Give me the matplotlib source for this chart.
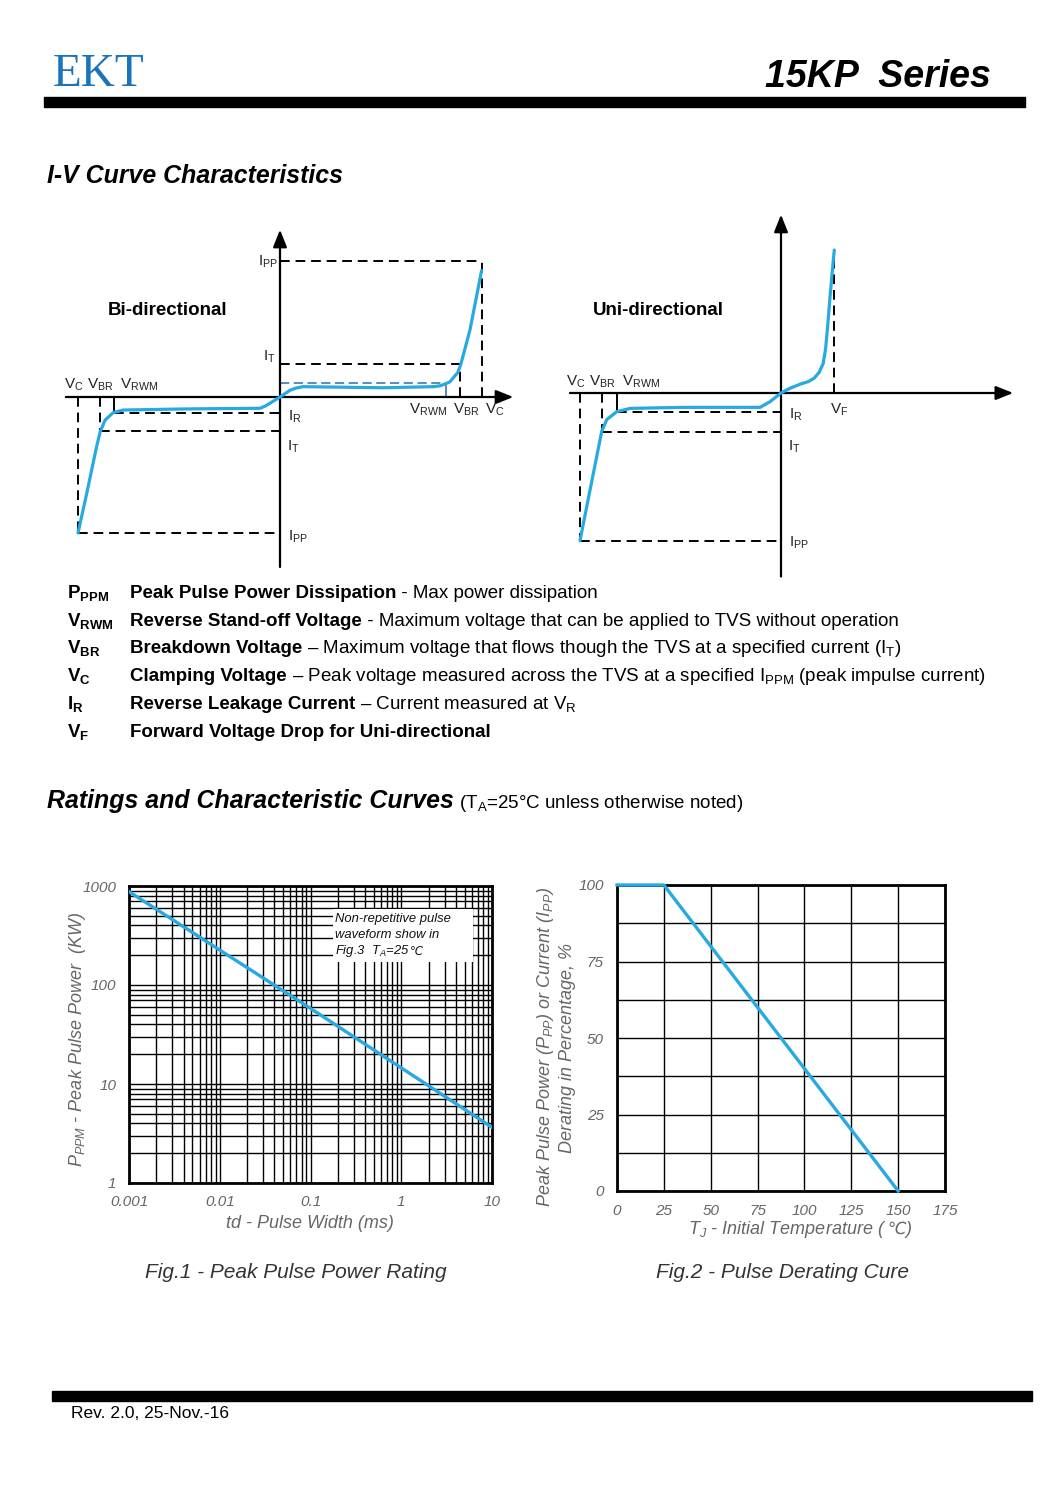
import numpy as np
import matplotlib
matplotlib.use('Agg')
import matplotlib.pyplot as plt
from matplotlib.patches import Rectangle
from matplotlib.ticker import LogLocator, NullFormatter, MultipleLocator

W, H = 1059, 1499

plt.rcParams['font.family'] = ['Liberation Sans', 'DejaVu Sans']
plt.rcParams['mathtext.fontset'] = 'custom'
plt.rcParams['mathtext.rm'] = 'Liberation Sans'
plt.rcParams['mathtext.it'] = 'Liberation Sans:italic'
plt.rcParams['mathtext.bf'] = 'Liberation Sans:bold'

# ---- schematic I-V curves (V, I in units of V_C / I_PP) ----
bi_v = [-1.0, -0.957, -0.908, -0.89, -0.866, -0.826, -0.777, -0.48, -0.099, -0.075, -0.05,
        0.0, 0.05, 0.08, 0.114, 0.51, 0.76, 0.795, 0.84, 0.88, 0.894, 0.94, 0.998]
bi_i = [-1.0, -0.71, -0.365, -0.255, -0.17, -0.115, -0.096, -0.088, -0.083, -0.068, -0.046,
        0.0, 0.05, 0.066, 0.076, 0.068, 0.076, 0.083, 0.11, 0.18, 0.235, 0.49, 0.93]
bi_vc, bi_vbr, bi_vrwm = 1.0, 0.89, 0.82
bi_ipp, bi_it, bi_ir = 1.0, 0.24, 0.1
bi_it_neg, bi_ir_neg = -0.25, -0.12

uni_v = [-1.0, -0.95, -0.892, -0.867, -0.817, -0.75, -0.486, -0.104, -0.055, 0.0,
         0.045, 0.1, 0.136, 0.165, 0.19, 0.21, 0.222, 0.232, 0.244, 0.255, 0.265]
uni_i = [-0.998, -0.655, -0.26, -0.18, -0.126, -0.104, -0.097, -0.097, -0.059, 0.0,
         0.032, 0.062, 0.077, 0.1, 0.14, 0.2, 0.3, 0.45, 0.65, 0.82, 0.966]
uni_vc, uni_vbr, uni_vrwm, uni_vf = -1.0, -0.89, -0.816, 0.264
uni_ipp, uni_it, uni_ir, uni_itop = -1.0, -0.264, -0.128, 0.966

# ---- definitions ----
def_sym = [r'P$_\mathbf{PPM}$', r'V$_\mathbf{RWM}$', r'V$_\mathbf{BR}$', r'V$_\mathbf{C}$',
           r'I$_\mathbf{R}$', r'V$_\mathbf{F}$']
def_bold = ['Peak Pulse Power Dissipation', 'Reverse Stand-off Voltage', 'Breakdown Voltage',
            'Clamping Voltage', 'Reverse Leakage Current', 'Forward Voltage Drop for Uni-directional']
def_rest = [' - Max power dissipation',
            ' - Maximum voltage that can be applied to TVS without operation',
            r' – Maximum voltage that flows though the TVS at a specified current (I$_\mathregular{T}$)',
            r' – Peak voltage measured across the TVS at a specified I$_\mathregular{PPM}$ (peak impulse current)',
            r' – Current measured at V$_\mathregular{R}$',
            '']

# ---- Fig.1 pulse power rating ----
td_ms = [0.001, 0.1, 10]
ppk_kw = [877, 58, 3.65]
fig1_xticks = [0.001, 0.01, 0.1, 1, 10]
fig1_xlabels = ['0.001', '0.01', '0.1', '1', '10']
fig1_yticks = [1, 10, 100, 1000]
fig1_ylabels = ['1', '10', '100', '1000']

# ---- Fig.2 derating ----
tj = [0, 25, 150]
derate = [100, 100, 0]
fig2_xticks = [0, 25, 50, 75, 100, 125, 150, 175]
fig2_yticks = [0, 25, 50, 75, 100]

BLUE = '#27a9e1'
GREY = '#666666'

fig = plt.figure(figsize=(W / 100, H / 100), dpi=100)
page = fig.add_axes([0, 0, 1, 1])
page.set_xlim(0, W)
page.set_ylim(H, 0)
page.axis('off')
page.set_zorder(10)
renderer = fig.canvas.get_renderer()


def px_axes(l, t, r, b):
    return fig.add_axes([l / W, 1 - b / H, (r - l) / W, (b - t) / H])


def runs(x, y, parts, ha='left', va='baseline'):
    # draw text pieces one after another on a common line
    texts, widths = [], []
    for s, kw in parts:
        t = page.text(x, y, s, va=va, ha='left', **kw)
        texts.append(t)
        widths.append(t.get_window_extent(renderer).width)
    x0 = x - sum(widths) / 2 if ha == 'center' else x
    for t, w in zip(texts, widths):
        t.set_x(x0)
        x0 += w


# header
page.text(53, 86, 'EKT', family='Liberation Serif', fontsize=34, color='#1a74bb', va='baseline')
page.text(991, 87, '15KP  Series', fontsize=27, weight='bold', style='italic', ha='right', va='baseline')
page.add_patch(Rectangle((44, 97), 981, 10, color='black'))

page.text(47, 183, 'I-V Curve Characteristics', fontsize=17.9, weight='bold', style='italic', va='baseline')


def iv_axes(l, t, r, b, ox, oy, sx, sy):
    ax = px_axes(l, t, r, b)
    ax.set_xlim((l - ox) / sx, (r - ox) / sx)
    ax.set_ylim((oy - b) / sy, (oy - t) / sy)
    ax.axis('off')
    return ax


def arrow(ax, x0, y0, x1, y1):
    ax.annotate('', xy=(x1, y1), xytext=(x0, y0), annotation_clip=False,
                arrowprops=dict(arrowstyle='-|>,head_length=0.75,head_width=0.3', color='black',
                                lw=1.6, shrinkA=0, shrinkB=0, mutation_scale=14))


dash = dict(color='black', lw=1.4, ls=(0, (5, 3)))

# Bi-directional
ax = iv_axes(55, 220, 525, 580, 280, 397, 202, 136)
arrow(ax, -1.06, 0, 1.155, 0)
arrow(ax, 0, -1.25, 0, 1.23)
ax.plot([0, bi_vc], [bi_ipp, bi_ipp], **dash)
ax.plot([bi_vc, bi_vc], [0, bi_ipp], **dash)
ax.plot([0, bi_vbr], [bi_it, bi_it], **dash)
ax.plot([bi_vbr, bi_vbr], [0, bi_it], **dash)
ax.plot([0, bi_vrwm], [bi_ir, bi_ir], color='#2b6ea6', lw=1.1, ls=(0, (6, 3)))
ax.plot([bi_vrwm, bi_vrwm], [0, bi_ir], color='#2b6ea6', lw=1.1)
ax.plot([-bi_vc, 0], [-bi_ipp, -bi_ipp], **dash)
ax.plot([-bi_vc, -bi_vc], [0, -bi_ipp], **dash)
ax.plot([-bi_vbr, 0], [bi_it_neg, bi_it_neg], **dash)
ax.plot([-bi_vbr, -bi_vbr], [0, bi_it_neg], **dash)
ax.plot([-bi_vrwm, 0], [bi_ir_neg, bi_ir_neg], **dash)
ax.plot([-bi_vrwm, -bi_vrwm], [0, bi_ir_neg], color='black', lw=1.4)
ax.plot(bi_v, bi_i, color=BLUE, lw=2.3, solid_capstyle='round', solid_joinstyle='round', zorder=5)

# Uni-directional
ax = iv_axes(560, 205, 1025, 585, 781, 393, 201, 148)
arrow(ax, -1.05, 0, 1.155, 0)
arrow(ax, 0, -1.24, 0, 1.205)
ax.plot([uni_vf, uni_vf], [0, uni_itop], **dash)
ax.plot([uni_vc, 0], [uni_ipp, uni_ipp], **dash)
ax.plot([uni_vc, uni_vc], [0, uni_ipp], **dash)
ax.plot([uni_vbr, 0], [uni_it, uni_it], **dash)
ax.plot([uni_vbr, uni_vbr], [0, uni_it], **dash)
ax.plot([uni_vrwm, 0], [uni_ir, uni_ir], **dash)
ax.plot([uni_vrwm, uni_vrwm], [0, uni_ir], color='black', lw=1.4)
ax.plot(uni_v, uni_i, color=BLUE, lw=2.3, solid_capstyle='round', solid_joinstyle='round', zorder=5)

lab = dict(fontsize=11, color='#222222', va='center')
for s, x, y, ha in [(r'I$_\mathregular{PP}$', 278, 262, 'right'), (r'I$_\mathregular{T}$', 276, 357, 'right'),
                    (r'V$_\mathregular{C}$', 64, 385, 'left'), (r'V$_\mathregular{BR}$', 87, 385, 'left'),
                    (r'V$_\mathregular{RWM}$', 120, 385, 'left'),
                    (r'V$_\mathregular{RWM}$', 409, 410, 'left'), (r'V$_\mathregular{BR}$', 453, 410, 'left'),
                    (r'V$_\mathregular{C}$', 485, 410, 'left'),
                    (r'I$_\mathregular{R}$', 288, 417, 'left'), (r'I$_\mathregular{T}$', 287, 447, 'left'),
                    (r'I$_\mathregular{PP}$', 288, 537, 'left'),
                    (r'V$_\mathregular{C}$', 566, 382, 'left'), (r'V$_\mathregular{BR}$', 589, 382, 'left'),
                    (r'V$_\mathregular{RWM}$', 622, 382, 'left'),
                    (r'I$_\mathregular{R}$', 789, 415, 'left'), (r'I$_\mathregular{T}$', 788, 447, 'left'),
                    (r'I$_\mathregular{PP}$', 789, 543, 'left'), (r'V$_\mathregular{F}$', 830, 410, 'left')]:
    page.text(x, y, s, ha=ha, **lab)
page.text(168, 310, 'Bi-directional', fontsize=13.5, weight='bold', ha='center', va='center')
page.text(658, 310, 'Uni-directional', fontsize=13.5, weight='bold', ha='center', va='center')

# definitions
for k in range(len(def_sym)):
    yb = 598 + k * 27.7
    page.text(67, yb, def_sym[k], fontsize=13.5, weight='bold', va='baseline')
    runs(130, yb, [(def_bold[k], dict(fontsize=13.5, weight='bold')),
                   (def_rest[k], dict(fontsize=13.5))])

runs(47, 808, [('Ratings and Characteristic Curves', dict(fontsize=17.9, weight='bold', style='italic')),
               (r' (T$_\mathregular{A}$=25°C unless otherwise noted)', dict(fontsize=13.5))])

# Fig.1
ax1 = px_axes(129, 886, 492, 1183)
ax1.set_xscale('log')
ax1.set_yscale('log')
ax1.set_xlim(0.001, 10)
ax1.set_ylim(1, 1000)
ax1.set_xticks(fig1_xticks, fig1_xlabels)
ax1.set_yticks(fig1_yticks, fig1_ylabels)
for a in (ax1.xaxis, ax1.yaxis):
    a.set_minor_locator(LogLocator(base=10, subs=np.arange(2, 10), numticks=30))
    a.set_minor_formatter(NullFormatter())
ax1.grid(which='both', color='black', lw=1.0)
ax1.set_axisbelow(True)
ax1.tick_params(which='both', length=0, labelsize=11, labelcolor=GREY, pad=9)
for t in ax1.get_xticklabels() + ax1.get_yticklabels():
    t.set_fontstyle('italic')
for sp in ax1.spines.values():
    sp.set_linewidth(2.0)
ax1.plot(td_ms, ppk_kw, color=BLUE, lw=2.4, zorder=4)
ax1.add_patch(Rectangle((0.562, 0.744), 0.386, 0.178, transform=ax1.transAxes,
                        facecolor='white', edgecolor='none', zorder=2))
box = dict(fontsize=9.4, style='italic', color='#111111')
runs(335, 919, [('Non-repetitive pulse', box)], va='center')
runs(335, 935, [('waveform show in', box)], va='center')
runs(335, 951, [(r'Fig.3  T$_A$=25', box), ('℃', dict(box, family='DejaVu Sans', fontsize=8.5))],
     va='center')

page.text(77, 1040, r'P$_{PPM}$ - Peak Pulse Power  (KW)', rotation=90, fontsize=13,
          style='italic', color=GREY, ha='center', va='center')
page.text(310, 1224, 'td - Pulse Width (ms)', fontsize=13, style='italic', color=GREY,
          ha='center', va='center')
page.text(296, 1272, 'Fig.1 - Peak Pulse Power Rating', fontsize=15, style='italic',
          color='#333333', ha='center', va='center')

# Fig.2
ax2 = px_axes(617, 885, 945, 1191)
ax2.set_xlim(0, 175)
ax2.set_ylim(0, 100)
ax2.set_xticks(fig2_xticks)
ax2.set_yticks(fig2_yticks)
ax2.yaxis.set_minor_locator(MultipleLocator(12.5))
ax2.grid(which='both', color='black', lw=1.0)
ax2.set_axisbelow(True)
ax2.tick_params(which='both', length=0, labelsize=11, labelcolor=GREY, pad=9.5)
for t in ax2.get_xticklabels() + ax2.get_yticklabels():
    t.set_fontstyle('italic')
for sp in ax2.spines.values():
    sp.set_linewidth(2.0)
ax2.plot(tj, derate, color=BLUE, lw=2.4, zorder=4, clip_on=False)

page.text(546, 1047, r'Peak Pulse Power (P$_{PP}$) or Current (I$_{PP}$)', rotation=90, fontsize=13,
          style='italic', color=GREY, ha='center', va='center')
page.text(567, 1048, 'Derating in Percentage, %', rotation=90, fontsize=13,
          style='italic', color=GREY, ha='center', va='center')
xl = dict(fontsize=13, style='italic', color=GREY)
runs(800, 1229, [(r'T$_J$ - Initial Temperature (', xl),
                 ('℃', dict(xl, family='DejaVu Sans', fontsize=12)),
                 (')', xl)], ha='center', va='center')
page.text(783, 1272, 'Fig.2 - Pulse Derating Cure', fontsize=15, style='italic',
          color='#333333', ha='center', va='center')

# footer
page.add_patch(Rectangle((52, 1391), 980, 10, color='black'))
page.text(71, 1413, 'Rev. 2.0, 25-Nov.-16', fontsize=12.5, va='center')

fig.savefig('out.png', dpi=100, facecolor='white')
